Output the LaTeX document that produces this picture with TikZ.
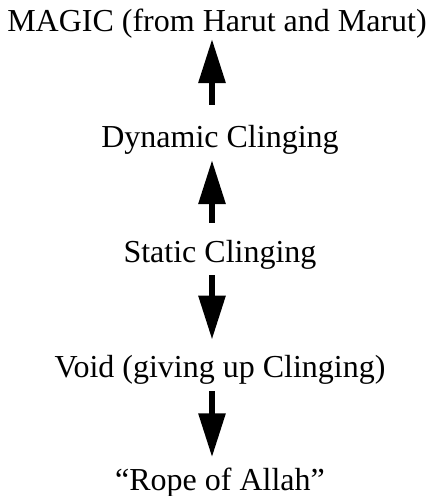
\documentclass[tikz,border=0pt]{standalone}
\usepackage{fontspec}
\setmainfont{Liberation Serif}
\usetikzlibrary{arrows.meta}

\begin{document}
\begin{tikzpicture}[x=1pt,y=1pt,
    lbl/.style={anchor=base,inner sep=0pt,font=\fontsize{32}{38}\selectfont},
    bigarrow/.style={line width=6pt,-{Triangle[length=44pt,width=26pt]}}]
        \useasboundingbox (0,0) rectangle (431,-496);
        \node[lbl] (magic) at (217,-31){MAGIC (from Harut and Marut)};
        \node[lbl] (dyn) at (220,-147){Dynamic Clinging};
        \node[lbl] (stat) at (220,-262){Static Clinging};
        \node[lbl] (void) at (220,-377){Void (giving up Clinging)};
        \node[lbl] (rope) at (220,-490){“Rope of Allah”};
        \draw[bigarrow,shorten <=20pt,shorten >=1pt]
          ([xshift=-8pt]dyn.north) -- ([xshift=-8pt]dyn.north |- magic.south);
        \draw[bigarrow,shorten <=17pt,shorten >=6pt]
          ([xshift=-8pt]stat.north) -- ([xshift=-8pt]stat.north |- dyn.south);
        \draw[bigarrow,shorten <=6pt,shorten >=15pt]
          ([xshift=-8pt]stat.south) -- ([xshift=-8pt]stat.south |- void.north);
        \draw[bigarrow,shorten <=7pt,shorten >=10pt]
          ([xshift=-8pt]void.south) -- ([xshift=-8pt]void.south |- rope.north);
      \end{tikzpicture}
\end{document}
